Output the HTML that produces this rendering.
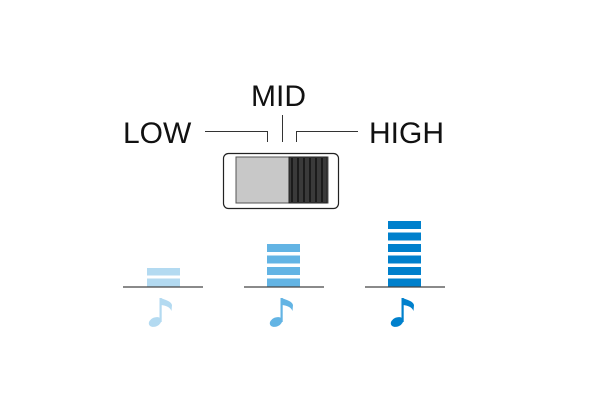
<!DOCTYPE html>
<html><head><meta charset="utf-8"><style>html,body{margin:0;padding:0;background:#fff}svg{display:block}</style></head>
<body>
<svg width="600" height="401" viewBox="0 0 600 401" xmlns="http://www.w3.org/2000/svg">
<rect width="600" height="401" fill="#fff"/>
<g font-family="Liberation Sans, sans-serif" font-size="30" fill="#111">
<text x="123" y="143">LOW</text>
<text x="251" y="106">MID</text>
<text x="369" y="143">HIGH</text>
</g>
<g stroke="#333" stroke-width="1" fill="none">
<polyline points="205,131.5 267.5,131.5 267.5,142"/>
<line x1="282.5" y1="115" x2="282.5" y2="142"/>
<polyline points="358,131.5 296.5,131.5 296.5,142"/>
</g>
<rect x="223.5" y="153.5" width="115" height="55" rx="5" fill="#fff" stroke="#222" stroke-width="1.2"/>
<rect x="236" y="157" width="92" height="46" fill="#c8c8c8" stroke="#555" stroke-width="1"/>
<rect x="289" y="157" width="38" height="46" fill="#3a3a3a" stroke="#222" stroke-width="1"/>
<g stroke="#111" stroke-width="1.5">
<line x1="292" y1="158" x2="292" y2="202"/>
<line x1="298" y1="158" x2="298" y2="202"/>
<line x1="304" y1="158" x2="304" y2="202"/>
<line x1="310" y1="158" x2="310" y2="202"/>
<line x1="316" y1="158" x2="316" y2="202"/>
<line x1="322" y1="158" x2="322" y2="202"/>
</g>
<g fill="#b3daf1">
<rect x="147" y="268" width="33" height="7.5"/><rect x="147" y="278.5" width="33" height="8"/>
</g>
<g fill="#63b4e4">
<rect x="267" y="244" width="33" height="8"/><rect x="267" y="255.5" width="33" height="8"/>
<rect x="267" y="267" width="33" height="8"/><rect x="267" y="278.5" width="33" height="8"/>
</g>
<g fill="#0080cc">
<rect x="388" y="221" width="33" height="8"/><rect x="388" y="232.5" width="33" height="8"/>
<rect x="388" y="244" width="33" height="8"/><rect x="388" y="255.5" width="33" height="8"/>
<rect x="388" y="267" width="33" height="8"/><rect x="388" y="278.5" width="33" height="8"/>
</g>
<g stroke="#444" stroke-width="1.3">
<line x1="123" y1="287" x2="203" y2="287"/>
<line x1="244" y1="287" x2="324" y2="287"/>
<line x1="365" y1="287" x2="445" y2="287"/>
</g>
<defs>
<g id="note">
<ellipse cx="-4" cy="24" rx="6.5" ry="4.5" transform="rotate(-25 -4 24)"/>
<rect x="0.5" y="0" width="2.2" height="24"/>
<path d="M2,0 C6,2 12,3 13,7 L12.5,13 C11,9 7,7.5 2,7 Z"/>
</g>
</defs>
<use href="#note" x="159" y="298" fill="#b3daf1"/>
<use href="#note" x="280" y="298" fill="#63b4e4"/>
<use href="#note" x="401" y="298" fill="#0080cc"/>
</svg>
</body></html>
